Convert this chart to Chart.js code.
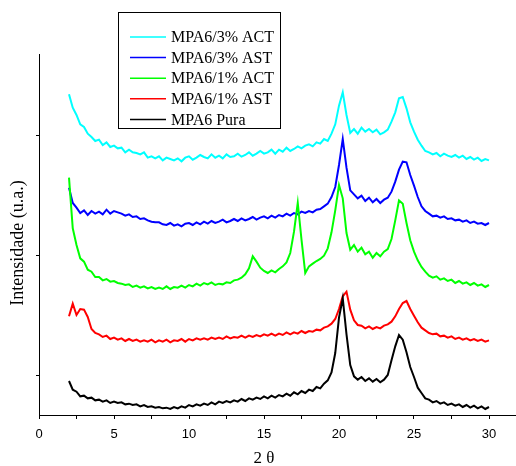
<!DOCTYPE html>
<html>
<head>
<meta charset="utf-8">
<script src="https://cdn.jsdelivr.net/npm/chart.js@4"></script>
<style>
  html, body { margin: 0; padding: 0; background: #fff; }
  #wrap { width: 516px; height: 466px; }
</style>
</head>
<body>
<div id="wrap"><canvas id="xrd" width="516" height="466"></canvas></div>
<script>
// diffractogram, 2 theta from 2 to 30 deg, curves stacked with an offset
const twoTheta = [
  2, 2.25, 2.5, 2.75, 3, 3.25, 3.5, 3.75,
  4, 4.25, 4.5, 4.75, 5, 5.25, 5.5, 5.75,
  6, 6.25, 6.5, 6.75, 7, 7.25, 7.5, 7.75,
  8, 8.25, 8.5, 8.75, 9, 9.25, 9.5, 9.75,
  10, 10.25, 10.5, 10.75, 11, 11.25, 11.5, 11.75,
  12, 12.25, 12.5, 12.75, 13, 13.25, 13.5, 13.75,
  14, 14.25, 14.5, 14.75, 15, 15.25, 15.5, 15.75,
  16, 16.25, 16.5, 16.75, 17, 17.25, 17.5, 17.75,
  18, 18.25, 18.5, 18.75, 19, 19.25, 19.5, 19.75,
  20, 20.25, 20.5, 20.75, 21, 21.25, 21.5, 21.75,
  22, 22.25, 22.5, 22.75, 23, 23.25, 23.5, 23.75,
  24, 24.25, 24.5, 24.75, 25, 25.25, 25.5, 25.75,
  26, 26.25, 26.5, 26.75, 27, 27.25, 27.5, 27.75,
  28, 28.25, 28.5, 28.75, 29, 29.25, 29.5, 29.75,
  30
]

const act3 = [
  842, 802, 780, 752, 744, 724, 714, 702,
  706, 690, 698, 684, 688, 680, 682, 668,
  676, 668, 666, 662, 668, 652, 656, 650,
  656, 644, 652, 648, 644, 650, 641, 652,
  656, 646, 652, 660, 654, 650, 662, 652,
  658, 650, 662, 654, 656, 664, 655, 660,
  668, 658, 664, 672, 664, 668, 676, 664,
  676, 670, 682, 672, 678, 686, 680, 688,
  692, 686, 698, 694, 708, 702, 724, 752,
  808, 848, 780, 726, 738, 724, 742, 730,
  738, 728, 736, 722, 728, 736, 760, 788,
  830, 834, 800, 758, 730, 706, 688, 672,
  668, 662, 666, 656, 664, 658, 654, 660,
  652, 658, 648, 654, 646, 652, 642, 648,
  644
]

const ast3 = [
  562, 516, 502, 486, 494, 480, 492, 484,
  490, 482, 496, 484, 492, 488, 484, 478,
  482, 474, 476, 468, 470, 464, 460, 458,
  458, 452, 450, 456, 448, 452, 446, 454,
  456, 450, 458, 452, 460, 454, 462, 456,
  460, 466, 458, 462, 468, 462, 470, 464,
  468, 474, 466, 472, 476, 470, 478, 472,
  480, 476, 484, 478, 486, 482, 490, 486,
  492, 488, 496, 498, 506, 514, 534, 564,
  630, 708, 622, 554, 542, 530, 538, 522,
  532, 518, 528, 516, 526, 532, 550, 580,
  616, 640, 638, 600, 568, 534, 506, 492,
  484, 476, 478, 472, 476, 468, 470, 464,
  466, 460, 464, 456, 460, 454, 456, 450,
  456
]

const act1 = [
  592, 440, 390, 350, 340, 316, 310, 294,
  294, 284, 288, 280, 282, 276, 274, 270,
  272, 264, 268, 262, 266, 260, 264, 258,
  262, 258, 266, 258, 264, 262, 268, 262,
  270, 266, 274, 268, 276, 272, 278, 270,
  274, 272, 278, 276, 284, 286, 292, 302,
  320, 356, 340, 322, 312, 306, 314, 308,
  318, 326, 338, 366, 430, 516, 406, 306,
  326, 334, 342, 348, 358, 380, 428, 494,
  570, 530, 426, 376, 390, 370, 382, 362,
  370, 352, 366, 356, 370, 378, 408, 464,
  524, 514, 456, 404, 370, 344, 324, 310,
  298, 292, 296, 286, 290, 282, 286, 276,
  282, 274, 278, 270, 276, 268, 272, 264,
  270
]

const ast1 = [
  176, 214, 180, 198, 196, 174, 138, 126,
  122, 114, 118, 108, 112, 106, 110, 102,
  108, 102, 106, 100, 104, 100, 106, 98,
  104, 100, 106, 98, 104, 102, 108, 100,
  108, 104, 110, 106, 110, 106, 112, 108,
  112, 108, 116, 110, 114, 112, 118, 112,
  118, 114, 120, 116, 122, 118, 124, 118,
  124, 120, 128, 122, 128, 124, 132, 126,
  132, 130, 136, 134, 142, 146, 154, 168,
  198, 236, 250, 196, 164, 150, 148, 140,
  146, 138, 144, 140, 148, 152, 160, 176,
  198, 216, 222, 198, 178, 158, 142, 134,
  126, 122, 124, 116, 118, 112, 116, 108,
  112, 106, 110, 104, 108, 102, 106, 100,
  104
]

const pura = [
  -18, -44, -50, -64, -62, -70, -68, -76,
  -74, -80, -76, -84, -80, -84, -82, -88,
  -86, -90, -88, -94, -90, -96, -94, -98,
  -96, -100, -98, -102, -96, -100, -94, -98,
  -90, -94, -88, -92, -86, -90, -82, -88,
  -80, -84, -78, -82, -76, -80, -72, -78,
  -70, -74, -68, -72, -64, -70, -62, -68,
  -60, -64, -56, -62, -52, -58, -48, -54,
  -44, -48, -36, -40, -26, -16, 8, 66,
  172, 230, 122, 30, -4, -14, -6, -18,
  -10, -20, -12, -22, -14, 0, 44, 86,
  120, 106, 68, 24, -6, -38, -54, -70,
  -74, -82, -78, -86, -82, -90, -86, -92,
  -88, -96, -90, -98, -92, -100, -94, -102,
  -96
]

const seriesNames = ["MPA6/3% ACT", "MPA6/3% AST", "MPA6/1% ACT", "MPA6/1% AST", "MPA6 Pura"]
const seriesColors = ["#00FFFF", "#0000FF", "#00FF00", "#FF0000", "#000000"]
const seriesValues = [act3, ast3, act1, ast1, pura]

const xTicks = [0, 2.5, 5, 7.5, 10, 12.5, 15, 17.5, 20, 22.5, 25, 27.5, 30]
const yTicks = [0, 360, 720]

const serif = '"Liberation Serif", "Times New Roman", serif'
const sans = '"Liberation Sans", Arial, sans-serif'

// legend box and axis titles drawn on top of the plot
const boxLegend = {
    id: 'boxLegend',
    afterDraw(chart) {
        const ctx = chart.ctx
        ctx.save()
        ctx.strokeStyle = '#000'
        ctx.lineWidth = 1
        ctx.strokeRect(118.5, 12.5, 162, 116)
        ctx.font = '16px ' + serif
        ctx.textBaseline = 'middle'
        ctx.textAlign = 'left'
        chart.data.datasets.forEach((ds, i) => {
            const y = 37 + i * 20.6
            ctx.strokeStyle = ds.borderColor
            ctx.lineWidth = 1.5
            ctx.beginPath()
            ctx.moveTo(130, y)
            ctx.lineTo(166, y)
            ctx.stroke()
            ctx.fillStyle = '#000'
            ctx.fillText(ds.label, 171, y + 1)
        })

        const xs = chart.scales.x
        ctx.textAlign = 'center'
        ctx.font = '17px ' + serif
        ctx.fillText('2 θ', xs.getPixelForValue(15), 459)

        ctx.translate(18.5, 243)
        ctx.rotate(-Math.PI / 2)
        ctx.font = '18px ' + serif
        ctx.fillText('Intensidade (u.a.)', 0, 0)
        ctx.restore()
    }
}

new Chart(document.getElementById("xrd"), {
    type: 'line',
    data: {
        datasets: seriesNames.map((name, k) => ({
            label: name,
            data: twoTheta.map((t, i) => ({x: t, y: seriesValues[k][i]})),
            borderColor: seriesColors[k],
            borderWidth: 2,
            pointRadius: 0,
            tension: 0,
            fill: false,
            order: seriesNames.length - k
        }))
    },
    options: {
        responsive: false,
        animation: false,
        layout: {padding: {top: 54, right: 0, left: 0, bottom: 0}},
        plugins: {legend: {display: false}, tooltip: {enabled: false}},
        scales: {
            x: {
                type: 'linear',
                min: 0,
                max: 31.8,
                afterBuildTicks: axis => { axis.ticks = xTicks.map(v => ({value: v})) },
                afterFit: axis => { axis.height = 51 },
                border: {color: '#000', width: 1},
                grid: {drawOnChartArea: false, drawTicks: true, tickLength: 4, color: '#000'},
                ticks: {
                    color: '#000',
                    padding: 8,
                    maxRotation: 0,
                    font: {family: sans, size: 13},
                    callback: v => (v % 5 === 0 ? String(v) : '')
                }
            },
            y: {
                type: 'linear',
                min: -120,
                max: 963,
                afterBuildTicks: axis => { axis.ticks = yTicks.map(v => ({value: v})) },
                afterFit: axis => { axis.width = 39 },
                border: {color: '#000', width: 1},
                grid: {drawOnChartArea: false, drawTicks: true, tickLength: 3, color: '#000'},
                ticks: {display: false}
            }
        }
    },
    plugins: [boxLegend]
})
</script>
</body>
</html>
